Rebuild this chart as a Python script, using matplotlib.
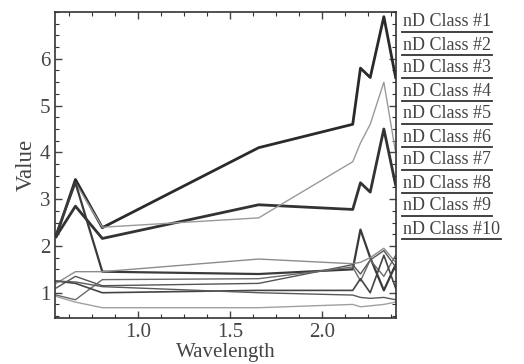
import matplotlib
matplotlib.use("Agg")
import matplotlib.pyplot as plt
from matplotlib.ticker import MultipleLocator

wavelength = [0.556, 0.661, 0.807, 1.656, 2.167, 2.209, 2.262, 2.336, 2.400]

class_names = ["nD Class #1", "nD Class #2", "nD Class #3", "nD Class #4", "nD Class #5",
               "nD Class #6", "nD Class #7", "nD Class #8", "nD Class #9", "nD Class #10"]

class1 = [2.20, 3.42, 2.39, 4.10, 4.60, 5.80, 5.60, 6.90, 5.60]
class2 = [2.20, 2.85, 2.16, 2.88, 2.78, 3.35, 3.15, 4.50, 3.30]
class3 = [2.25, 3.35, 2.40, 2.60, 3.80, 4.20, 4.60, 5.50, 4.00]
class4 = [2.25, 3.35, 1.45, 1.40, 1.50, 2.35, 1.75, 1.05, 1.60]
class5 = [1.20, 1.45, 1.45, 1.72, 1.62, 1.65, 1.75, 1.95, 1.65]
class6 = [1.10, 1.35, 1.15, 1.20, 1.60, 1.40, 1.70, 1.90, 1.55]
class7 = [0.95, 0.85, 1.28, 1.30, 1.55, 1.25, 1.70, 1.35, 1.80]
class8 = [1.25, 1.20, 1.00, 1.05, 1.05, 1.30, 1.00, 1.80, 1.10]
class9 = [1.25, 1.23, 1.13, 1.00, 0.95, 0.90, 0.88, 0.90, 0.85]
class10 = [0.92, 0.80, 0.68, 0.68, 0.75, 0.70, 0.72, 0.75, 0.80]

series = [class1, class2, class3, class4, class5, class6, class7, class8, class9, class10]
colors = ["#2a2a2a", "#333333", "#9a9a9a", "#3a3a3a", "#8c8c8c",
          "#555555", "#6a6a6a", "#444444", "#5a5a5a", "#a0a0a0"]
widths = [2.0, 2.0, 1.0, 1.6, 1.0, 1.0, 1.0, 1.2, 1.0, 1.0]

plt.rcParams["font.family"] = ["Liberation Serif", "DejaVu Serif"]

fig = plt.figure(figsize=(5.24, 3.64), dpi=100)
ax = fig.add_axes([55 / 524, 1 - 318 / 364, (396 - 55) / 524, (318 - 12) / 364])

for vals, c, w in zip(series, colors, widths):
    ax.plot(wavelength, vals, color=c, lw=w)

ax.set_xlim(0.55, 2.402)
ax.set_ylim(0.46, 7.0)
ax.set_xticks([1.0, 1.5, 2.0])
ax.set_yticks([1, 2, 3, 4, 5, 6])
ax.xaxis.set_minor_locator(MultipleLocator(0.125))
ax.yaxis.set_minor_locator(MultipleLocator(0.25))
ax.tick_params(which="both", direction="in", top=True, right=True, color="#333333")
ax.tick_params(which="major", length=5, width=1.0, labelsize=15, colors="#444444")
ax.tick_params(which="minor", length=3, width=0.8)
for s in ax.spines.values():
    s.set_color("#333333")
    s.set_linewidth(1.2)
ax.set_xlabel("Wavelength", fontsize=15, color="#444444", labelpad=1)
ax.set_ylabel("Value", fontsize=16.5, color="#444444", labelpad=2)

# legend: labels with underline samples
y0 = 22
dy = 23.0
renderer = fig.canvas.get_renderer()
for i, (name, c) in enumerate(zip(class_names, colors)):
    yt = y0 + i * dy
    t = fig.text(403 / 524, 1 - yt / 364, name, fontsize=13, color="#444444",
                 ha="left", va="center")
    bb = t.get_window_extent(renderer=renderer)
    x1 = (bb.x1 + 1) / fig.bbox.width
    fig.add_artist(plt.Line2D([402 / 524, x1],
                              [1 - (yt + 10) / 364] * 2, color="#333333", lw=1.3,
                              transform=fig.transFigure))

fig.savefig("out.png", dpi=100)
